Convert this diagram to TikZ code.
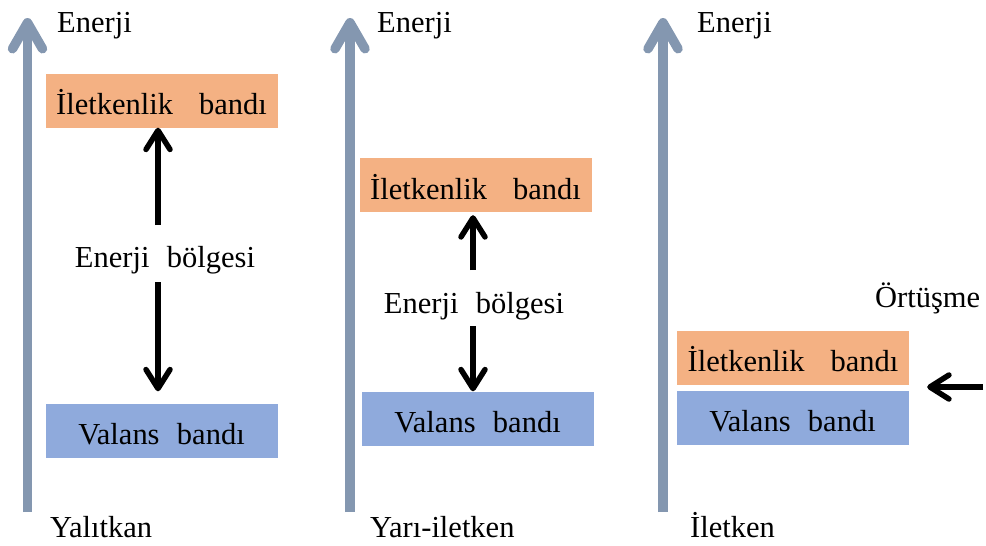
\documentclass[tikz,border=0pt]{standalone}
\usepackage{fontspec}
\setmainfont{LiberationSerif}[Extension=.ttf, UprightFont=*-Regular, BoldFont=*-Bold]
\usetikzlibrary{arrows.meta,calc}
\definecolor{axisc}{HTML}{8497B0}
\definecolor{condc}{HTML}{F4B183}
\definecolor{valc}{HTML}{8FAADC}
\begin{document}
\begin{tikzpicture}[x=1pt,y=-1pt,
  font=\fontsize{30.5}{36}\selectfont,
  band/.style={inner sep=0pt, text height=41pt, text depth=13pt, minimum width=232pt},
  lbl/.style={inner sep=0pt, anchor=base west},
  axisarrow/.style={draw=axisc, line width=9.5pt, -{Straight Barb[length=26pt,width=30pt,round]}},
  blk/.style={draw=black, line width=5.5pt, -{Straight Barb[length=19pt,width=24pt,round]}}]
\useasboundingbox (0,0) rectangle (986,546);

% energy axes
\foreach \ax/\nm in {27.5/a, 350/b, 663/c}{
  \coordinate (\nm bot) at (\ax,512);
  \coordinate (\nm top) at (\ax,18);
  \draw[axisarrow] (\nm bot) -- (\nm top);
}

% axis titles and material names
\node[lbl] (e1) at (57,32) {Enerji};
\node[lbl] (e2) at (377,32) {Enerji};
\node[lbl] (e3) at (697,32) {Enerji};
\node[lbl] (m1) at (50,537) {Yalıtkan};
\node[lbl] (m2) at (370,537) {Yarı-iletken};
\node[lbl] (m3) at (690,537) {İletken};

% bands
\node[band, fill=condc] (c1) at (161.5,100.5) {İletkenlik\hspace{0.85em}bandı};
\node[band, fill=valc]  (v1) at (161.5,430.5) {Valans\hspace{0.57em}bandı};
\node[band, fill=condc] (c2) at (475.5,185)   {İletkenlik\hspace{0.85em}bandı};
\node[band, fill=valc]  (v2) at (477.5,418.5) {Valans\hspace{0.57em}bandı};
\node[band, fill=condc] (c3) at (793,357.5)   {İletkenlik\hspace{0.85em}bandı};
\node[band, fill=valc]  (v3) at (792.5,417.5) {Valans\hspace{0.57em}bandı};

% band gaps
\node[inner sep=0pt, anchor=base] (g1) at (165,267) {Enerji\hspace{0.57em}bölgesi};
\node[inner sep=0pt, anchor=base] (g2) at (474,313) {Enerji\hspace{0.57em}bölgesi};
\node[lbl] (ov) at (875,307) {Örtüşme};

% gap arrows
\coordinate (u1) at (158,225);
\coordinate (d1) at (158,282);
\draw[blk] (u1) -- (u1 |- c1.south);
\draw[blk] (d1) -- ($(d1 |- v1.north)+(0,-12)$);
\coordinate (u2) at (473,270);
\coordinate (d2) at (473,326);
\draw[blk] (u2) -- ($(u2 |- c2.south)+(0,3)$);
\draw[blk] (d2) -- (d2 |- v2.north);

% overlap pointer
\coordinate (o1) at (983,387);
\draw[blk] (o1) -- ($(o1 -| c3.east)+(18,0)$);
\end{tikzpicture}
\end{document}
